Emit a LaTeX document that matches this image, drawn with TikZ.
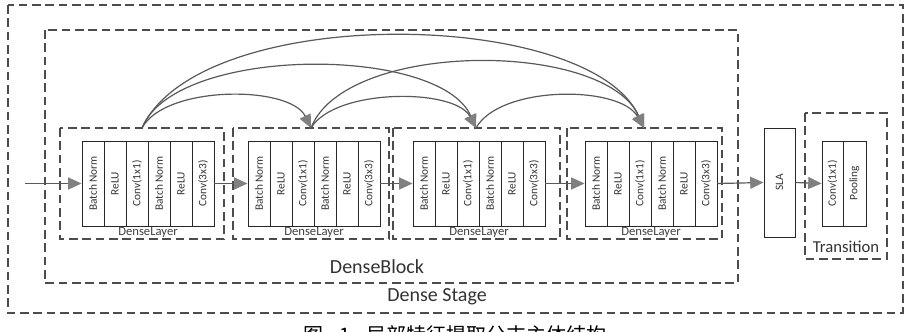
\documentclass[tikz,border=0pt]{standalone}
\usepackage{fontspec}
\setmainfont{Carlito}
\newfontfamily\cjk{Noto Sans CJK SC}
\usetikzlibrary{arrows.meta}
\begin{document}
\begin{tikzpicture}[x=0.75pt,y=-0.75pt,
  dashbox/.style={draw=black!70, line width=0.8pt, dash pattern=on 6.5pt off 3.5pt},
  col/.style={draw=black!85, line width=0.7pt, minimum width=16.5pt, minimum height=63.75pt, inner sep=0pt, font=\fontsize{8.5}{9}\selectfont, text=black!80},
  flow/.style={draw=black!65, line width=0.9pt, -{Triangle[length=10pt,width=9pt,color=black!50]}},
  lbl/.style={font=\fontsize{9.5}{10}\selectfont, text=black!75, inner sep=1pt},
  big/.style={font=\fontsize{15}{16}\selectfont, text=black!80, inner sep=1pt}]
\useasboundingbox (0,0) rectangle (915,332);
% Dense Stage
\draw[dashbox] (8,5) rectangle (903,313);
\node[big] (stage) at (437,297) {Dense Stage};
% DenseBlock
\draw[dashbox] (45,30) rectangle (738,283);
\node[big] (block) at (377,267) {DenseBlock};
% Dense layers
\foreach \i/\bx/\dl/\dr in {1/82/60/224, 2/248/233/389, 3/413/393/560, 4/585/567/722} {
  \draw[dashbox] (\dl,128) rectangle (\dr,239);
  \foreach \j/\t in {1/Batch Norm,2/ReLU,3/Conv(1x1),4/Batch Norm,5/ReLU,6/Conv(3x3)} {
    \node[col] (L\i c\j) at ({\bx+11+22*(\j-1)},183.5) {\rotatebox{90}{\t}};
  }
  \node[lbl] (dl\i) at ({\bx+66},232) {DenseLayer};
}
% SLA
\node[col, minimum width=23.25pt, minimum height=81.75pt] (sla) at (779.5,182.5) {\rotatebox{90}{SLA}};
% Transition
\draw[dashbox] (805,113) rectangle (887,259);
\node[col, minimum width=15.75pt] (tc1) at (832.5,183.5) {\rotatebox{90}{Conv(1x1)}};
\node[col, minimum width=17.25pt] (tc2) at (854.5,183.5) {\rotatebox{90}{Pooling}};
\node[font=\fontsize{12.5}{13}\selectfont, text=black!80, inner sep=1pt] (trans) at (846,247) {Transition};
% horizontal flow
\coordinate (in) at (25,183.5);
\draw[flow] (in) -- (L1c1.west);
\draw[flow] (L1c6.east) -- (L2c1.west);
\draw[flow] (L2c6.east) -- (L3c1.west);
\draw[flow] (L3c6.east) -- (L4c1.west);
\draw[flow] (L4c6.east) -- (sla.west);
\draw[flow] (sla.east) -- (tc1.west);
% dense connections
\coordinate (T1) at (142,128);
\coordinate (T2) at (311,128);
\coordinate (T3) at (476,128);
\coordinate (T4) at (644,128);
\draw[flow] (T1) .. controls (165,85) and (290,85) .. (T2);
\draw[flow] (T1) .. controls (175,45) and (440,45) .. (T3);
\draw[flow] (T1) .. controls (200,2) and (590,8) .. (T4);
\draw[flow] (T2) .. controls (335,88) and (455,88) .. (T3);
\draw[flow] (T2) .. controls (345,40) and (605,40) .. (T4);
\draw[flow] (T3) .. controls (500,85) and (620,85) .. (T4);
% caption (cut off at the bottom edge, as in the reference)
\node[anchor=base west, font=\cjk\fontsize{15}{16}\selectfont, inner sep=0pt] (cap) at (303,342) {图\hspace{12pt}1\hspace{12pt}局部特征提取分支主体结构};
\end{tikzpicture}
\end{document}
